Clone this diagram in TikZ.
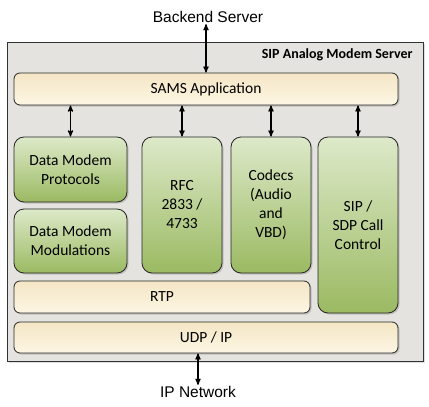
\documentclass[tikz,border=0pt]{standalone}
\usepackage{fontspec}
\setmainfont{Carlito}
\newfontfamily\arialfont{Liberation Sans}
\usepackage{tikz}
\usetikzlibrary{positioning}
\usetikzlibrary{arrows}
\usetikzlibrary{shadows}

\definecolor{framegray}{HTML}{E4E3DF}
\definecolor{greentop}{HTML}{DDE9C9}
\definecolor{greenbot}{HTML}{9BBA62}
\definecolor{beigetop}{HTML}{F4E6C5}
\definecolor{beigebot}{HTML}{FDF6E4}

\begin{document}
\begin{tikzpicture}[x=1pt,y=-1pt,<->,>=stealth',thick,
	frame/.style={rectangle,draw=black!80,fill=framegray,line width=0.8pt,drop shadow={shadow xshift=2pt,shadow yshift=-2pt,opacity=.25}},
	layer box/.style={rectangle,rounded corners=6pt,draw=black!85,line width=0.8pt,top color=beigetop,bottom color=beigebot,drop shadow={shadow xshift=1.5pt,shadow yshift=-1.5pt,opacity=.35},font=\fontsize{15.5}{19}\selectfont,inner sep=0pt},
	block box/.style={rectangle,rounded corners=10pt,draw=black!85,line width=0.8pt,top color=greentop,bottom color=greenbot,drop shadow={shadow xshift=1.5pt,shadow yshift=-1.5pt,opacity=.35},font=\fontsize{15.5}{19}\selectfont,align=center,inner sep=0pt},
	outside label/.style={font=\arialfont\fontsize{15.5}{18}\selectfont,inner sep=1pt}]

	\useasboundingbox (0,0) rectangle (429,407);

	\node[frame,minimum width=416pt,minimum height=319pt] (server) at (215,201.5) {};
	\node[anchor=east,font=\bfseries\fontsize{14}{16}\selectfont,inner sep=0pt] (title) at (413,55) {SIP Analog Modem Server};

	\node[layer box,minimum width=384pt,minimum height=32pt] (sams) at (206,89) {SAMS Application};
	\node[block box,minimum width=113pt,minimum height=65pt] (proto) at (70.5,169.5) {Data Modem\\Protocols};
	\node[block box,minimum width=113pt,minimum height=64pt] (modul) at (70.5,241) {Data Modem\\Modulations};
	\node[block box,minimum width=80pt,minimum height=136pt] (rfc) at (182,205) {RFC\\2833 /\\4733};
	\node[block box,minimum width=80pt,minimum height=136pt] (codecs) at (271,205) {Codecs\\(Audio\\and\\VBD)};
	\node[block box,minimum width=80pt,minimum height=176pt] (sip) at (358,225) {SIP /\\SDP Call\\Control};
	\node[layer box,minimum width=296pt,minimum height=32pt] (rtp) at (162,297) {RTP};
	\node[layer box,minimum width=384pt,minimum height=31pt] (udp) at (206,337.5) {UDP / IP};

	\node[outside label] (backend) at (208,17) {Backend Server};
	\node[outside label] (ipnet) at (198,392) {IP Network};

	\path[line width=1.2pt]
	(sams.north)	edge (sams.north |- backend.south)
	(sams.south -| proto)	edge (proto.north)
	(sams.south -| rfc)	edge (rfc.north)
	(sams.south -| codecs)	edge (codecs.north)
	(sams.south -| sip)	edge (sip.north)
	(udp.south -| ipnet)	edge (ipnet.north)
	;
\end{tikzpicture}
\end{document}
